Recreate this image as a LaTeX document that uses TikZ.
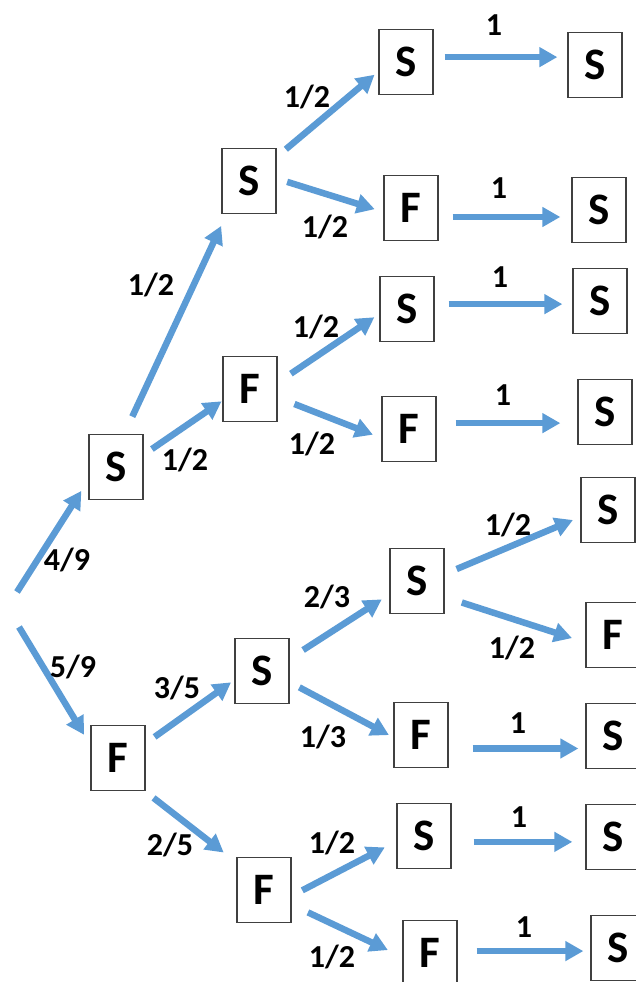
\documentclass[tikz,border=0pt]{standalone}
\usepackage{fontspec}
\setmainfont{Carlito}
\usetikzlibrary{arrows.meta, positioning}
\definecolor{arrBlue}{RGB}{91,155,213}
\definecolor{boxGray}{RGB}{64,64,64}

\tikzset{
  cell/.style={draw=boxGray, line width=1.3pt, minimum width=54pt, minimum height=65pt,
    inner sep=0pt, font=\fontsize{45}{45}\selectfont\bfseries},
  prob/.style={inner sep=0pt, font=\fontsize{32}{32}\selectfont\bfseries},
  arr/.style={draw=arrBlue, line width=6.5pt, -{Triangle[length=18pt,width=19pt]}}
}

\begin{document}
\begin{tikzpicture}[x=1pt, y=-1pt]
	\useasboundingbox (0,0) rectangle (636,982);
	\clip (0,0) rectangle (636,982);
	% first and second draw
	\node[cell] (S1) at (116,467) {S};
	\node[cell] (F1) at (118,758) {F};
	\node[cell] (S2) at (249,181) {S};
	\node[cell] (F2) at (250,389) {F};
	\node[cell] (S3) at (262,671) {S};
	\node[cell] (F3) at (264,890) {F};
	% third draw
	\node[cell] (A) at (406,62) {S};
	\node[cell] (B) at (411,208) {F};
	\node[cell] (C) at (407,309) {S};
	\node[cell] (D) at (409,429) {F};
	\node[cell] (E) at (417,581) {S};
	\node[cell] (G) at (421,735) {F};
	\node[cell] (H) at (424,836) {S};
	\node[cell] (I) at (430,953) {F};
	% fourth draw
	\node[cell] (a1) at (595,65) {S};
	\node[cell] (b1) at (599,210) {S};
	\node[cell] (c1) at (600,301) {S};
	\node[cell] (d1) at (605,412) {S};
	\node[cell] (e1) at (608,510) {S};
	\node[cell] (e2) at (613,635) {F};
	\node[cell] (g1) at (613,736) {S};
	\node[cell] (h1) at (613,837) {S};
	\node[cell] (i1) at (618,948) {S};

	% start
	\coordinate (r1) at (17,592);
	\coordinate (r2) at (19,627);
	\draw[arr, shorten >=13pt] (r1) -- (S1.205);
	\draw[arr, shorten >=12pt] (r2) -- (F1.155);

	% branches
	\foreach \p/\pa/\q/\qa/\s/\e in {S1/76/S2/-124/19/13, S1/24/F2/-157/10/1,
		F1/28/S3/-162/11/4, F1/-51/F3/135/11/16, S2/41/A/-161/12/5, S2/5/B/-172/11/9,
		F2/13/C/-170/16/6, F2/-17/D/-162/18/9, S3/24/E/-154/16/9, S3/-22/G/-175/11/5,
		F3/-12/H/-169/12/13, F3/-28/I/-172/18/16, E/14/e1/-166/13/8, E/-30/e2/-165/18/14} {
		\draw[arr, shorten <=\s pt, shorten >=\e pt] (\p.\pa) -- (\q.\qa);
	}
	% sure steps
	\foreach \p/\pa/\q/\s/\e in {A/10/a1/11/10, B/-18/b1/14/11, C/10/c1/14/10, D/12/d1/19/17,
		G/-26/g1/24/7, H/-12/h1/22/13, I/4/i1/19/7} {
		\draw[arr, shorten <=\s pt, shorten >=\e pt] (\p.\pa) -- (\p.\pa -| \q.west);
	}

	% probabilities
	\node[prob] (p1) at (67,560) {4/9};
	\node[prob] (p2) at (73,667) {5/9};
	\node[prob] (p3) at (151,285) {1/2};
	\node[prob] (p4) at (185,460) {1/2};
	\node[prob] (p5) at (177,688) {3/5};
	\node[prob] (p6) at (170,845) {2/5};
	\node[prob] (p7) at (307,97) {1/2};
	\node[prob] (p8) at (325,227) {1/2};
	\node[prob] (p9) at (316,327) {1/2};
	\node[prob] (p10) at (312,444) {1/2};
	\node[prob] (p11) at (327,597) {2/3};
	\node[prob] (p12) at (323,737) {1/3};
	\node[prob] (p13) at (332,843) {1/2};
	\node[prob] (p14) at (332,957) {1/2};
	\node[prob] (p15) at (508,525) {1/2};
	\node[prob] (p16) at (512,648) {1/2};
	\node[prob] (q1) at (494,25) {1};
	\node[prob] (q2) at (499,188) {1};
	\node[prob] (q3) at (500,277) {1};
	\node[prob] (q4) at (503,395) {1};
	\node[prob] (q5) at (518,723) {1};
	\node[prob] (q6) at (519,817) {1};
	\node[prob] (q7) at (524,927) {1};
\end{tikzpicture}
\end{document}
